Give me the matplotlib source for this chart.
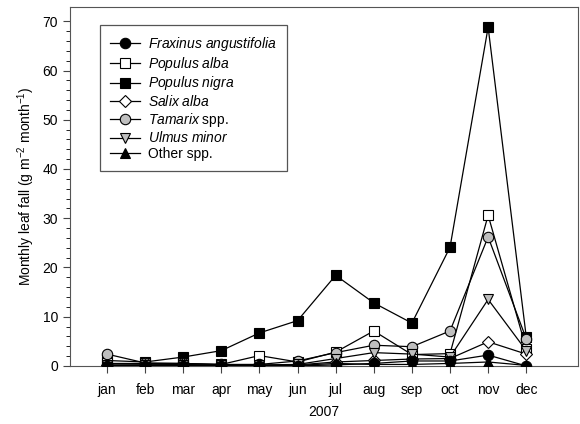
import matplotlib
matplotlib.use("Agg")
import matplotlib.pyplot as plt

plt.rcParams['font.family'] = ['Liberation Sans', 'DejaVu Sans']
plt.rcParams['mathtext.fontset'] = 'custom'
plt.rcParams['mathtext.rm'] = 'Liberation Sans'
plt.rcParams['mathtext.it'] = 'Liberation Sans:italic'

months = ["jan", "feb", "mar", "apr", "may", "jun",
          "jul", "aug", "sep", "oct", "nov", "dec"]

fraxinus = [0.0, 0.0, 0.0, 0.0, 0.0, 0.0, 0.2, 0.5, 1.0, 1.0, 2.2, 0.0]
populus_alba = [0.5, 0.5, 0.5, 0.3, 2.1, 0.8, 2.8, 7.1, 2.3, 2.5, 30.6, 3.5]
populus_nigra = [1.1, 0.8, 1.8, 3.1, 6.7, 9.2, 18.4, 12.8, 8.7, 24.1, 68.8, 5.9]
salix = [0.1, 0.2, 0.3, 0.1, 0.1, 0.2, 0.8, 1.1, 1.4, 1.5, 4.9, 2.4]
tamarix = [2.4, 0.6, 0.5, 0.3, 0.3, 1.0, 2.7, 4.2, 3.9, 7.1, 26.2, 5.5]
ulmus = [0.2, 0.2, 0.2, 0.1, 0.2, 0.3, 1.5, 2.7, 2.4, 1.8, 13.5, 3.1]
other = [0.1, 0.1, 0.1, 0.1, 0.1, 0.1, 0.5, 0.3, 0.3, 0.5, 0.8, 0.1]

x = list(range(1, 13))

fig = plt.figure(figsize=(5.8, 4.24), dpi=100)
ax = fig.add_axes([0.1207, 0.137, 0.876, 0.8465])

series = [
    (fraxinus, 'o', 'black', r'$\it{Fraxinus\ angustifolia}$', 9),
    (populus_alba, 's', 'white', r'$\it{Populus\ alba}$', 4),
    (populus_nigra, 's', 'black', r'$\it{Populus\ nigra}$', 3),
    (salix, 'D', 'white', r'$\it{Salix\ alba}$', 6),
    (tamarix, 'o', '#bfbfbf', r'$\it{Tamarix}$ spp.', 5),
    (ulmus, 'v', '#bfbfbf', r'$\it{Ulmus\ minor}$', 7),
    (other, '^', 'black', 'Other spp.', 8),
]

for vals, mk, fc, lab, z in series:
    ms = 6 if mk == 'D' else 7.5
    ax.plot(x, vals, color='black', lw=0.9, marker=mk, markersize=ms,
            markerfacecolor=fc, markeredgecolor='black', markeredgewidth=0.8,
            label=lab, zorder=z)

ax.set_xlim(0.03, 13.36)
ax.set_ylim(0, 72.9)
ax.set_xticks(x)
ax.set_xticklabels(months)
ax.set_yticks(range(0, 71, 10))
ax.set_yticks(range(0, 71, 2), minor=True)
ax.tick_params(axis='both', labelsize=10, direction='out', color='#444444')
ax.tick_params(axis='both', which='major', length=5)
ax.tick_params(axis='y', which='minor', length=3)
ax.tick_params(axis='x', pad=7)
for sp in ax.spines.values():
    sp.set_color('#555555')

ax.set_ylabel(r'Monthly leaf fall (g m$^{-2}$ month$^{-1}$)', fontsize=10)
ax.set_xlabel('2007', fontsize=10, labelpad=6)

leg = ax.legend(loc='upper left', bbox_to_anchor=(0.045, 0.968), fontsize=10,
                handlelength=2.2, handletextpad=0.6, fancybox=False,
                edgecolor='#555555', borderpad=0.7, labelspacing=0.12,
                framealpha=1)
leg.get_frame().set_linewidth(0.9)

fig.savefig('out.png', dpi=100)
